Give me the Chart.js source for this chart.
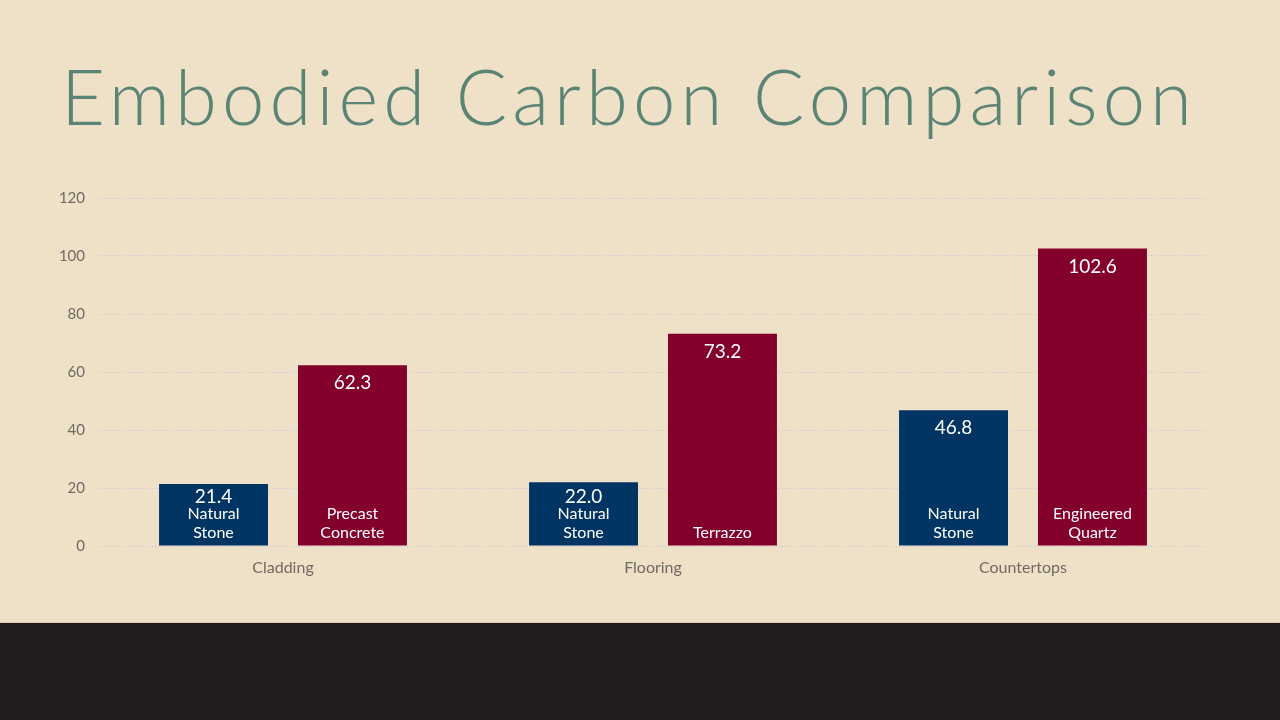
<!DOCTYPE html>
<html>
<head>
<meta charset="utf-8">
<script src="https://cdn.jsdelivr.net/npm/chart.js@4.4.1/dist/chart.umd.min.js"></script>
<style>
  html, body { margin: 0; padding: 0; }
  body { width: 1280px; height: 720px; position: relative; overflow: hidden; background: #efe1c8; }
  #title { position: absolute; left: 61px; top: 58px; font-family: "Lato", "Noto Sans", sans-serif; font-weight: 300;
           font-size: 76px; color: #5b8475; white-space: nowrap; line-height: 1; }
  #band { position: absolute; left: 0; top: 622px; width: 1280px; height: 98px; background: #221c1c; border-top: 1px solid #d9c9ac; }
  #wrap { position: absolute; left: 40px; top: 176px; width: 1200px; height: 424px; }
</style>
</head>
<body>
<div id="title">Embodied Carbon Comparison</div>
<div id="wrap"><canvas id="chart"></canvas></div>
<div id="band"></div>
<script>
const categories = ['Cladding', 'Flooring', 'Countertops'];
const naturalStone = [21.4, 22.0, 46.8];
const alternative = [62.3, 73.2, 102.6];
const naturalNames = ['Natural Stone', 'Natural Stone', 'Natural Stone'];
const altNames = ['Precast Concrete', 'Terrazzo', 'Engineered Quartz'];
const yTicks = [0, 20, 40, 60, 80, 100, 120];

// the slide font is wider than Lato, so spread the letters to the same width
const title = document.getElementById('title');
const tw = title.getBoundingClientRect().width;
title.style.letterSpacing = ((1136 - tw) / title.textContent.length) + 'px';

const FONT = '"Lato", "Noto Sans", sans-serif';

// value at the top of each bar, material name at the bottom
const barLabels = {
    id: 'barLabels',
    afterDatasetsDraw(chart) {
        const ctx = chart.ctx;
        ctx.save();
        ctx.fillStyle = '#ffffff';
        ctx.textAlign = 'center';
        ctx.textBaseline = 'middle';
        chart.data.datasets.forEach((ds, i) => {
            chart.getDatasetMeta(i).data.forEach((bar, j) => {
                const words = ds.names[j].split(' ');
                const bottom = bar.base - 13;
                const topLine = bottom - (words.length - 1) * 19;
                ctx.font = '19px ' + FONT;
                // short bars: keep the value just above the name
                ctx.fillText(ds.data[j].toFixed(1), bar.x, Math.min(bar.y + 18, topLine - 17));
                ctx.font = '16px ' + FONT;
                words.slice().reverse().forEach((w, k) => {
                    ctx.fillText(w, bar.x, bottom - k * 19);
                });
            });
        });
        ctx.restore();
    }
};

new Chart(document.getElementById('chart'), {
    type: 'bar',
    data: {
        labels: categories,
        datasets: [{
            label: 'Natural Stone',
            data: naturalStone,
            names: naturalNames,
            backgroundColor: '#003462'
        }, {
            label: 'Alternative',
            data: alternative,
            names: altNames,
            backgroundColor: '#82002a'
        }]
    },
    options: {
        responsive: true,
        maintainAspectRatio: false,
        animation: false,
        categoryPercentage: 0.751,
        barPercentage: 0.784,
        layout: { padding: { top: 14, right: 32, left: 0, bottom: 0 } },
        plugins: { legend: { display: false }, tooltip: { enabled: false } },
        scales: {
            x: {
                grid: { display: false },
                border: { display: false },
                ticks: { color: '#6f6a65', font: { family: FONT, size: 16 }, padding: 4 },
                afterFit(scale) { scale.height = 54; }
            },
            y: {
                min: 0,
                max: 120,
                afterBuildTicks(scale) { scale.ticks = yTicks.map(v => ({ value: v })); },
                grid: { color: '#b8c5dc', lineWidth: 1, drawTicks: false },
                border: { display: false, dash: [1, 2] },
                ticks: { color: '#6f6a65', font: { family: FONT, size: 15 }, padding: 13 },
                afterFit(scale) { scale.width = 58; }
            }
        }
    },
    plugins: [barLabels]
});
</script>
</body>
</html>
